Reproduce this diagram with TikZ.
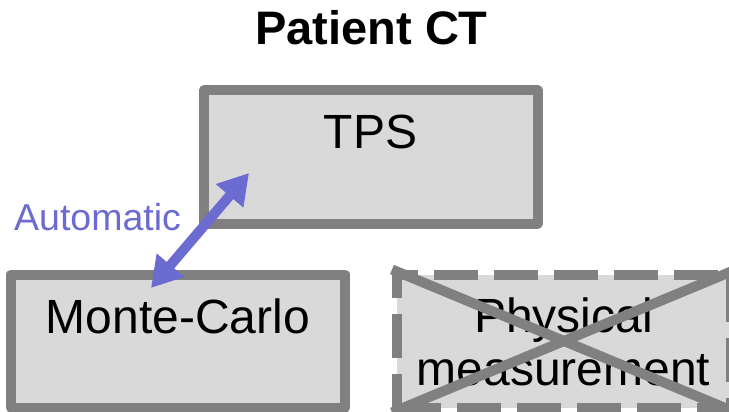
\documentclass[tikz,border=0pt]{standalone}
\usepackage{fontspec}
\setmainfont{Liberation Sans}
\usetikzlibrary{arrows.meta}
\definecolor{boxline}{HTML}{808080}
\definecolor{boxfill}{HTML}{D9D9D9}
\definecolor{autoblue}{HTML}{6B6BD1}
\tikzset{
  stage/.style={draw=boxline, fill=boxfill, line width=10pt, line join=round,
    rectangle, inner sep=0pt, minimum width=334pt, minimum height=133pt},
  dropped/.style={stage, dash pattern=on 44pt off 16pt},
  boxtext/.style={font=\fontsize{48}{53}\selectfont, inner sep=0pt, anchor=base, align=center},
  crossline/.style={draw=boxline, line width=10pt},
  autoarrow/.style={draw=autoblue, line width=10pt,
    {Triangle[length=30pt,width=34pt]}-{Triangle[length=30pt,width=34pt]}},
}
\begin{document}
\begin{tikzpicture}[x=1pt,y=-1pt]
  \useasboundingbox (0,0) rectangle (729,412);

  % title
  \node[font=\fontsize{47}{50}\selectfont\bfseries, inner sep=0pt, anchor=base] (title) at (371.5,45) {Patient CT};

  % stage boxes
  \node[stage] (tps) at (370.75,157) {};
  \node[stage] (mc) at (178,341) {};
  \node[dropped] (phys) at (564,341) {};

  % box labels (base anchor of the two-line label sits on its last line)
  \node[boxtext] (tpslabel) at (370.5,148) {TPS};
  \node[boxtext] (mclabel) at (178,333) {Monte-Carlo};
  \node[boxtext] (physlabel) at (563.5,385) {Physical\\measurement};

  % crossed-out physical measurement
  \draw[crossline] (phys.north west) -- (phys.south east);
  \draw[crossline] (phys.south west) -- (phys.north east);

  % automatic link between TPS and Monte-Carlo
  \coordinate (tpsend) at (249,173);
  \coordinate (mcend) at (151,288);
  \draw[autoarrow] (tpsend) -- (mcend);
  \node[text=autoblue, font=\fontsize{37.5}{40}\selectfont, inner sep=0pt, anchor=base west] (autolabel) at (14,230) {Automatic};
\end{tikzpicture}
\end{document}
